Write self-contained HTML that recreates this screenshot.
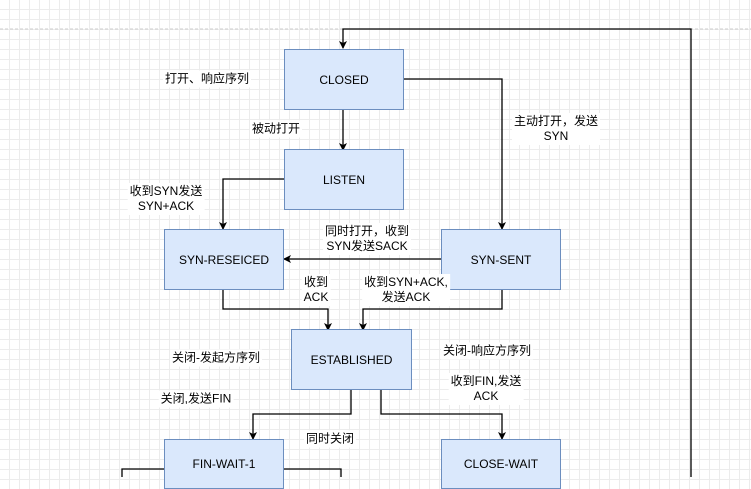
<!DOCTYPE html>
<html><head><meta charset="utf-8"><style>
body{margin:0;width:751px;height:477px;overflow:hidden;background:#fff;
background-image:linear-gradient(#ececec 1px,transparent 1px),linear-gradient(90deg,#ececec 1px,transparent 1px);
background-size:10px 10px;background-position:-1px 9px;font-family:"Liberation Sans","Noto Sans CJK SC",sans-serif;}
.b{position:absolute;background:#dae8fc;border:1px solid #6c8ebf;box-sizing:border-box;display:flex;align-items:center;justify-content:center;font-size:12px;color:#000}
.l{position:absolute;background:#fff;font-size:12px;line-height:15px;text-align:center;transform:translate(-50%,-50%);white-space:nowrap;padding:1px 2px}
svg{position:absolute;left:0;top:0}
</style></head><body>
<svg width="751" height="477">
<defs><marker id="a" markerWidth="8" markerHeight="8" refX="7" refY="4" orient="auto" markerUnits="userSpaceOnUse"><path d="M0,0 L8,4 L0,8 L2,4z" fill="#000"/></marker></defs>
<line x1="0" y1="29" x2="751" y2="29" stroke="#ccc" stroke-dasharray="3,2"/>
<g fill="none" stroke="#000" stroke-width="1.3">
<path d="M691,477 V29 H343 V48" marker-end="url(#a)"/>
<path d="M404,79 H502 V229" marker-end="url(#a)"/>
<path d="M343,110 V150" marker-end="url(#a)"/>
<path d="M284,179 H223 V229" marker-end="url(#a)"/>
<path d="M441,259 H284" marker-end="url(#a)"/>
<path d="M223,290 V309 H328 V330" marker-end="url(#a)"/>
<path d="M502,290 V309 H363 V330" marker-end="url(#a)"/>
<path d="M351,390 V414 H253 V439" marker-end="url(#a)"/>
<path d="M381,390 V414 H502 V439" marker-end="url(#a)"/>
<path d="M164,469 H122 V477"/>
<path d="M283,469 H341 V477"/>
</g></svg>
<div class="b" style="left:284px;top:49px;width:120px;height:61px">CLOSED</div>
<div class="b" style="left:284px;top:149px;width:120px;height:61px">LISTEN</div>
<div class="b" style="left:164px;top:229px;width:120px;height:61px">SYN-RESEICED</div>
<div class="b" style="left:441px;top:229px;width:120px;height:61px">SYN-SENT</div>
<div class="b" style="left:291px;top:329px;width:121px;height:61px">ESTABLISHED</div>
<div class="b" style="left:164px;top:439px;width:120px;height:50px">FIN-WAIT-1</div>
<div class="b" style="left:441px;top:439px;width:120px;height:50px">CLOSE-WAIT</div>
<div class="l" style="left:207px;top:79px">打开、响应序列</div>
<div class="l" style="left:276px;top:129px">被动打开</div>
<div class="l" style="left:556px;top:129px">主动打开，发送<br>SYN</div>
<div class="l" style="left:166px;top:199px">收到SYN发送<br>SYN+ACK</div>
<div class="l" style="left:367px;top:239px">同时打开，收到<br>SYN发送SACK</div>
<div class="l" style="left:316px;top:290px">收到<br>ACK</div>
<div class="l" style="left:406px;top:290px">收到SYN+ACK,<br>发送ACK</div>
<div class="l" style="left:216px;top:358px">关闭-发起方序列</div>
<div class="l" style="left:487px;top:351px">关闭-响应方序列</div>
<div class="l" style="left:486px;top:389px">收到FIN,发送<br>ACK</div>
<div class="l" style="left:196px;top:399px">关闭,发送FIN</div>
<div class="l" style="left:330px;top:439px">同时关闭</div>
</body></html>
